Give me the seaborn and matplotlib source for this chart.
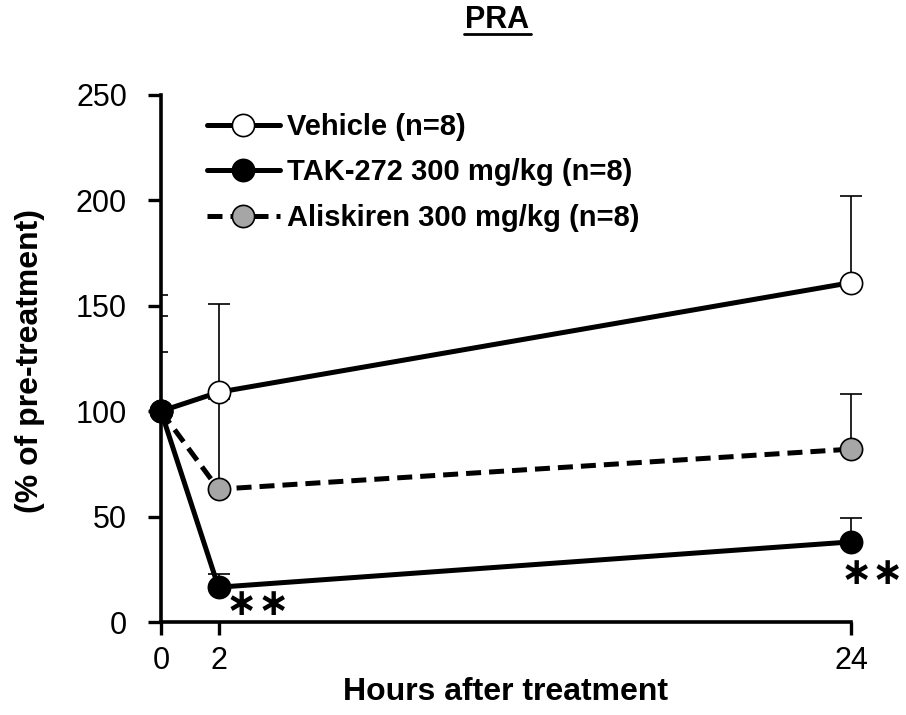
import matplotlib
matplotlib.use("Agg")
import matplotlib.pyplot as plt
import seaborn as sns
import pandas as pd
import numpy as np
from matplotlib.lines import Line2D

sns.set_theme(style="white")
plt.rcParams['font.family'] = ['Liberation Sans', 'DejaVu Sans']
plt.rcParams['text.color'] = 'black'
plt.rcParams['axes.labelcolor'] = 'black'
plt.rcParams['xtick.color'] = 'black'
plt.rcParams['ytick.color'] = 'black'

hours = [0, 2, 24]
vehicle = [100, 109, 161]
vehicle_err = [0, 42, 41]
tak = [100, 16.5, 38]
tak_err = [0, 6.5, 11.5]
aliskiren = [100, 63, 82]
aliskiren_err = [0, 43, 26]
labels = ["Vehicle (n=8)", "TAK-272 300 mg/kg (n=8)", "Aliskiren 300 mg/kg (n=8)"]
yticks = [0, 50, 100, 150, 200, 250]
xticks = [0, 2, 24]
# significance marks (x, y in data units)
sig_x = [2.8, 3.9, 24.17, 25.27]
sig_y = [8.1, 8.1, 22.8, 22.8]

fig = plt.figure(figsize=(9.06, 7.15), dpi=100)
ax = fig.add_axes([161/906, 1-622/715, 690/906, 527/715])

series = [
    (aliskiren, aliskiren_err, "#a6a6a6", (0, (3, 1.6)), 3),
    (vehicle, vehicle_err, "white", "-", 4),
    (tak, tak_err, "black", "-", 5),
]
for vals, err, fc, ls, z in series:
    df = pd.DataFrame({"h": hours, "v": vals})
    ax.errorbar(hours, vals, yerr=[np.zeros(len(err)), err], fmt="none",
                ecolor="black", elinewidth=1.2, capsize=8, capthick=1.2,
                zorder=z - 0.5, clip_on=False)
    sns.lineplot(data=df, x="h", y="v", ax=ax, color="black", linewidth=3.6,
                 linestyle=ls, marker="o", markersize=16, markerfacecolor=fc,
                 markeredgecolor="black", markeredgewidth=1.2, zorder=z,
                 clip_on=False)

ax.set_xlim(0, 24)
ax.set_ylim(0, 250)
ax.set_xticks(xticks)
ax.set_yticks(yticks)
ax.set_yticks([128, 145, 155], minor=True)
for s in ["top", "right"]:
    ax.spines[s].set_visible(False)
for s in ["left", "bottom"]:
    ax.spines[s].set_linewidth(2.6)
    ax.spines[s].set_color("black")
ax.tick_params(which="major", axis="both", direction="out", length=9.5, width=2.4,
               labelsize=22, color="black", labelcolor="black", left=True, bottom=True)
ax.tick_params(which="minor", axis="y", direction="in", length=5, width=1.2, left=True)
ax.tick_params(axis="y", pad=15)
ax.tick_params(axis="x", pad=8)
ax.set_xlabel("")
ax.set_ylabel("")

fig.text(506/906, 1-692/715, "Hours after treatment", ha="center", va="center",
         fontsize=23, fontweight="bold", color="black")
fig.text(30/906, 1-361/715, "(% of pre-treatment)", ha="center", va="center",
         rotation=90, fontsize=23, fontweight="bold", color="black")
fig.text(497/906, 1-20/715, "PRA", ha="center", va="center",
         fontsize=22, fontweight="bold", color="black")
fig.add_artist(Line2D([464/906, 531/906], [1-34/715, 1-34/715], color="black",
                      linewidth=2, transform=fig.transFigure))

for sx, sy in zip(sig_x, sig_y):
    ax.text(sx, sy, "∗", ha="center", va="center", fontsize=27, color="black",
            family="DejaVu Sans", fontweight="bold", clip_on=False)

handles = [
    Line2D([], [], color="black", lw=3.6, marker="o", markersize=16,
           markerfacecolor="white", markeredgecolor="black", markeredgewidth=1.2),
    Line2D([], [], color="black", lw=3.6, marker="o", markersize=16,
           markerfacecolor="black", markeredgecolor="black", markeredgewidth=1.2),
    Line2D([], [], color="black", lw=3.6, ls=(0, (3, 1.6)), marker="o", markersize=16,
           markerfacecolor="#a6a6a6", markeredgecolor="black", markeredgewidth=1.2),
]
leg = fig.legend(handles, labels, loc="upper left",
                 bbox_to_anchor=(207/906, 1-113/715), bbox_transform=fig.transFigure,
                 frameon=False, fontsize=21, handlelength=2.5, handletextpad=0.25,
                 labelspacing=0.6, borderpad=0, borderaxespad=0)
for txt in leg.get_texts():
    txt.set_fontweight("bold")
    txt.set_color("black")

fig.savefig("out.png", dpi=100)
